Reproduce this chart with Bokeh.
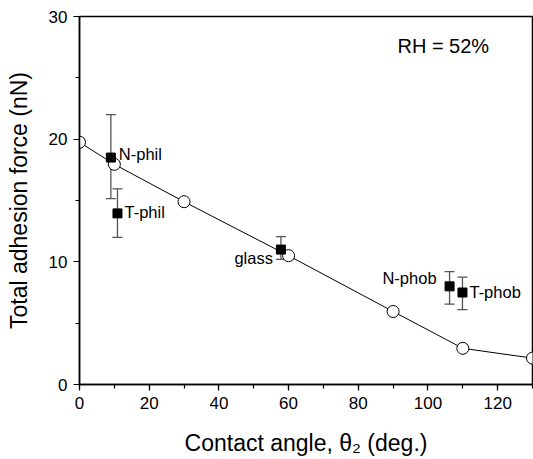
from bokeh.plotting import figure
from bokeh.models import ColumnDataSource, Whisker, TeeHead, SingleIntervalTicker, Range1d, Label
from bokeh.core.properties import value
from bokeh.embed import file_html
from bokeh.resources import INLINE

# Model curve (open circles)
model_angle = [0, 10, 30, 60, 90, 110, 130]
model_force = [19.75, 17.95, 14.9, 10.5, 5.95, 2.95, 2.15]

# Measured data (filled squares)
meas_names = ["N-phil", "T-phil", "glass", "N-phob", "T-phob"]
meas_angle = [9.0, 10.9, 57.8, 106.2, 109.9]
meas_force = [18.5, 13.95, 11.0, 8.0, 7.5]
meas_upper = [22.0, 15.95, 12.05, 9.2, 8.75]
meas_lower = [15.15, 12.0, 10.2, 6.55, 6.1]

FONT = "Liberation Sans"
ERR = "#555555"

p = figure(width=533, height=459, output_backend="svg", toolbar_location=None,
           x_range=Range1d(0, 130), y_range=Range1d(0, 30),
           min_border_left=79, min_border_right=1, min_border_top=16, min_border_bottom=75)
p.grid.visible = False
p.outline_line_color = "black"
p.outline_line_width = 1.5
p.background_fill_color = "white"
p.border_fill_color = "white"

for ax in (p.xaxis[0], p.yaxis[0]):
    ax.axis_line_width = 1.5
    ax.axis_line_color = "black"
    ax.major_tick_line_width = 1.2
    ax.minor_tick_line_width = 1.2
    ax.major_tick_out = 6
    ax.major_tick_in = 0
    ax.minor_tick_out = 4
    ax.minor_tick_in = 0
    ax.major_label_text_font = FONT
    ax.major_label_text_font_size = "17px"
    ax.major_label_text_color = "black"
    ax.axis_label_text_font = FONT
    ax.axis_label_text_font_style = "normal"
    ax.axis_label_text_font_size = "23px"
    ax.axis_label_text_color = "black"

p.xaxis.ticker = SingleIntervalTicker(interval=20, num_minor_ticks=2)
p.yaxis.ticker = SingleIntervalTicker(interval=10, num_minor_ticks=2)
p.xaxis.axis_label = "Contact angle, \u03b8\u2082 (deg.)"
p.yaxis.axis_label = "Total adhesion force (nN)"
p.xaxis.axis_label_standoff = 18
p.yaxis.axis_label_standoff = 14
p.xaxis.major_label_standoff = 6
p.yaxis.major_label_standoff = 6

msrc = ColumnDataSource(dict(x=model_angle, y=model_force))
p.line("x", "y", source=msrc, line_color="black", line_width=1)
p.scatter("x", "y", source=msrc, marker="circle", size=12, fill_color="white",
          line_color="black", line_width=1)

dsrc = ColumnDataSource(dict(x=meas_angle, y=meas_force, up=meas_upper, lo=meas_lower,
                             name=meas_names))
w = Whisker(base="x", upper="up", lower="lo", source=dsrc, line_color=ERR, line_width=1.3,
            upper_head=TeeHead(size=10, line_color=ERR, line_width=1.3),
            lower_head=TeeHead(size=10, line_color=ERR, line_width=1.3))
p.add_layout(w)
p.scatter("x", "y", source=dsrc, marker="square", size=9, fill_color="black", line_color="black")

# point labels
right_idx = [0, 1, 4]
left_idx = [2, 3]
rsrc = ColumnDataSource(dict(x=[meas_angle[i] for i in right_idx],
                             y=[meas_force[i] for i in right_idx],
                             t=[meas_names[i] for i in right_idx],
                             dx=[8, 7, 7], dy=[-4, -1, -1]))
p.text("x", "y", text="t", source=rsrc, x_offset="dx", y_offset="dy", text_baseline="middle",
       text_align="left", text_font=value(FONT), text_font_size="16.5px", text_color="black")
lsrc = ColumnDataSource(dict(x=[meas_angle[i] for i in left_idx],
                             y=[meas_force[i] for i in left_idx],
                             t=[meas_names[i] for i in left_idx],
                             dx=[-8, -13], dy=[8, -8]))
p.text("x", "y", text="t", source=lsrc, x_offset="dx", y_offset="dy", text_baseline="middle",
       text_align="right", text_font=value(FONT), text_font_size="16.5px", text_color="black")

p.add_layout(Label(x=104.4, y=27.6, text="RH = 52%", text_align="center", text_baseline="middle",
                   text_font=FONT, text_font_size="20px", text_color="black"))

open("out.html", "w").write(file_html(p, INLINE))
